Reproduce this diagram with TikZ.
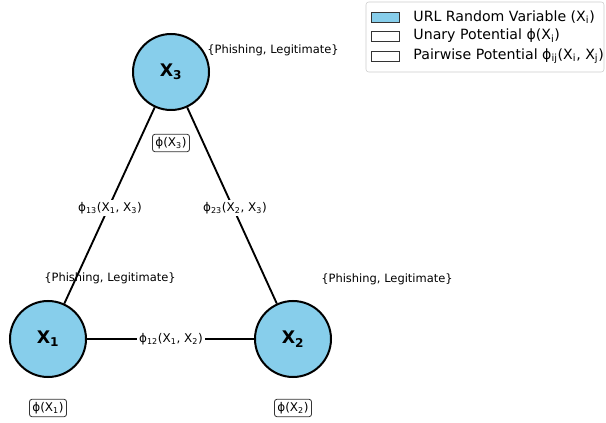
\documentclass[tikz,border=0pt]{standalone}
\usepackage{fontspec}
\setmainfont{DejaVu Sans}
\usetikzlibrary{positioning}
\definecolor{skyblue}{RGB}{135,206,235}
\newcommand*{\sub}[1]{\textsubscript{#1}}
\tikzstyle{urlvar}=[circle,draw=black,line width=1.5pt,fill=skyblue,minimum size=57pt,inner sep=0pt,font=\fontsize{13}{15}\selectfont\bfseries]
\tikzstyle{pairpot}=[fill=white,inner sep=1.5pt,font=\fontsize{9}{11}\selectfont]
\tikzstyle{unarypot}=[draw=black!80,line width=0.6pt,rounded corners=2pt,fill=white,inner sep=2.2pt,font=\fontsize{9}{11}\selectfont]
\tikzstyle{statelabel}=[font=\fontsize{8.6}{10}\selectfont]
\tikzstyle{patch}=[draw=black!80,line width=0.6pt,minimum width=21pt,minimum height=7.5pt,inner sep=0pt]

\begin{document}
\begin{tikzpicture}[x=0.75pt,y=-0.75pt]
            \useasboundingbox (0,0) rectangle (606,423);
            % variables
            \node[urlvar] (X3) at (171,72) {X\sub{3}};
            \node[urlvar] (X1) at (48,339) {X\sub{1}};
            \node[urlvar] (X2) at (293,339) {X\sub{2}};
            % pairwise potentials
            \draw[line width=1.4pt] (X1) -- (X3);
            \draw[line width=1.4pt] (X2) -- (X3);
            \draw[line width=1.4pt] (X1) -- (X2);
            \node[pairpot] (p13) at (110,208) {ϕ\sub{13}(X\sub{1}, X\sub{3})};
            \node[pairpot] (p23) at (235,208) {ϕ\sub{23}(X\sub{2}, X\sub{3})};
            \node[pairpot] (p12) at (171,339) {ϕ\sub{12}(X\sub{1}, X\sub{2})};
            % unary potentials
            \node[unarypot] (u3) at (171,143) {ϕ(X\sub{3})};
            \node[unarypot] (u1) at (48,408) {ϕ(X\sub{1})};
            \node[unarypot] (u2) at (293,408) {ϕ(X\sub{2})};
            % domains
            \node[statelabel] (d3) at (273,50) {\{Phishing, Legitimate\}};
            \node[statelabel] (d1) at (110,278) {\{Phishing, Legitimate\}};
            \node[statelabel] (d2) at (387,279) {\{Phishing, Legitimate\}};
            % legend
            \draw[black!20,rounded corners=2pt,fill=white] (366,2) rectangle (604,72);
            \node[patch,fill=skyblue] (l1) at (385,17) {};
            \node[patch,fill=white] (l2) at (385,36) {};
            \node[patch,fill=white] (l3) at (385,56) {};
            \node[right=7pt of l1,font=\fontsize{10.6}{12}\selectfont] (t1) {URL Random Variable (X\sub{i})};
            \node[right=7pt of l2,font=\fontsize{10.6}{12}\selectfont] (t2) {Unary Potential ϕ(X\sub{i})};
            \node[right=7pt of l3,font=\fontsize{10.6}{12}\selectfont] (t3) {Pairwise Potential ϕ\sub{ij}(X\sub{i}, X\sub{j})};
        \end{tikzpicture}
\end{document}
